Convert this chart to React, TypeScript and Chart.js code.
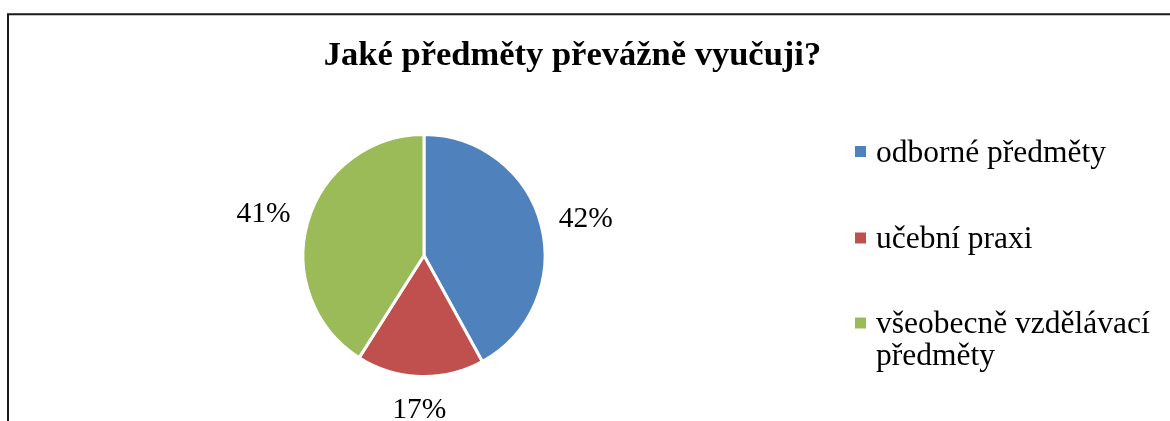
import React, { useEffect, useRef } from "react";
import { Chart, registerables } from "chart.js";

Chart.register(...registerables);

const TITLE = "Jaké předměty převážně vyučuji?";
const CATEGORIES = ["odborné předměty", "učební praxi", "všeobecně vzdělávací předměty"];
const LEGEND_LINES = [["odborné předměty"], ["učební praxi"], ["všeobecně vzdělávací", "předměty"]];
const VALUES = [42, 17, 41];
const COLORS = ["#4F81BD", "#C0504D", "#9BBB59"];

const SERIF = "'Liberation Serif', 'Times New Roman', serif";

const overlayPlugin = {
  id: "overlay",
  afterDraw(chart: any) {
    const ctx = chart.ctx as CanvasRenderingContext2D;
    ctx.save();
    // outer frame
    ctx.strokeStyle = "#1a1a1a";
    ctx.lineWidth = 2;
    ctx.beginPath();
    ctx.moveTo(8, 421);
    ctx.lineTo(8, 14.3);
    ctx.lineTo(1170, 14.3);
    ctx.stroke();

    // title
    ctx.fillStyle = "#000";
    ctx.font = `bold 34.5px ${SERIF}`;
    ctx.textAlign = "center";
    ctx.textBaseline = "alphabetic";
    ctx.fillText(TITLE, 572.5, 65);

    // percentage labels
    const meta = chart.getDatasetMeta(0);
    const total = VALUES.reduce((a, b) => a + b, 0);
    ctx.font = `29.5px ${SERIF}`;
    ctx.textAlign = "center";
    ctx.textBaseline = "middle";
    meta.data.forEach((arc: any, i: number) => {
      const mid = (arc.startAngle + arc.endAngle) / 2;
      const dx = Math.cos(mid);
      const dy = Math.sin(mid);
      const txt = Math.round((VALUES[i] / total) * 100) + "%";
      const halfW = ctx.measureText(txt).width / 2;
      const halfH = 11;
      const dist = arc.outerRadius + 17 + Math.abs(dx) * halfW + Math.abs(dy) * halfH;
      ctx.fillText(txt, arc.x + dx * dist, arc.y + dy * dist + 5);
    });

    // legend
    ctx.font = `31.5px ${SERIF}`;
    ctx.textAlign = "left";
    ctx.textBaseline = "alphabetic";
    const rowY = [151.5, 238, 323];
    CATEGORIES.forEach((_, i) => {
      ctx.fillStyle = COLORS[i];
      ctx.fillRect(855, rowY[i] - 5.5, 11, 11);
      ctx.fillStyle = "#000";
      LEGEND_LINES[i].forEach((line, j) => {
        ctx.fillText(line, 876, rowY[i] + 10 + j * 32);
      });
    });
    ctx.restore();
  },
};

export default function App() {
  const ref = useRef<HTMLCanvasElement | null>(null);
  useEffect(() => {
    if (!ref.current) return;
    const chart = new Chart(ref.current, {
      type: "pie",
      data: {
        labels: CATEGORIES,
        datasets: [
          {
            data: VALUES,
            backgroundColor: COLORS,
            borderColor: "#ffffff",
            borderWidth: 3,
          },
        ],
      },
      options: {
        responsive: false,
        animation: false,
        layout: { padding: { left: 301.5, right: 623.5, top: 133, bottom: 43 } },
        plugins: {
          legend: { display: false },
          title: { display: false },
          tooltip: { enabled: false },
        },
      },
      plugins: [overlayPlugin],
    });
    return () => chart.destroy();
  }, []);
  return (
    <div style={{ position: "absolute", left: 0, top: 0, width: 1170, height: 421, background: "#fff" }}>
      <canvas ref={ref} width={1170} height={421} style={{ display: "block" }} />
    </div>
  );
}
